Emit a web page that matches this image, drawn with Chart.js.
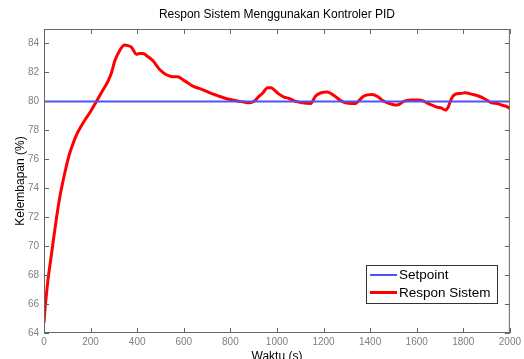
<!DOCTYPE html>
<html lang="id">
<head>
    <meta charset="UTF-8">
    <title>Respon Sistem Menggunakan Kontroler PID</title>
    <script src="https://cdn.jsdelivr.net/npm/chart.js"></script>
    <style>
        body { margin: 0; background: #fff; }
        #chart { display: block; }
    </style>
</head>
<body>
    <canvas id="chart" width="524" height="359"></canvas>
    <script>
        // data
        const xTicks = [0, 200, 400, 600, 800, 1000, 1200, 1400, 1600, 1800, 2000];
        const yTicks = [64, 66, 68, 70, 72, 74, 76, 78, 80, 82, 84];

        const spTime = [0, 2000];
        const spValue = [80, 80];

        const respTime = [0, 5, 10, 18, 30, 40, 55, 68, 83, 97, 110, 125, 140, 160, 175, 200, 225, 250, 275, 290,
            304, 318, 332, 346, 360, 375, 385, 396, 410, 425, 445, 468, 482, 496, 515, 532, 555, 574, 600, 620,
            639, 675, 710, 745, 781, 810, 838, 860, 881, 905, 917, 940, 960, 975, 988, 1009, 1030, 1052, 1080, 1109,
            1145, 1166, 1190, 1216, 1245, 1270, 1295, 1320, 1337, 1355, 1373, 1409, 1435, 1458, 1485, 1508, 1525, 1544, 1575, 1608,
            1625, 1644, 1665, 1686, 1705, 1722, 1735, 1744, 1755, 1765, 1790, 1808, 1835, 1865, 1895, 1922, 1945, 1964, 1985, 2000];
        const respValue = [64.7, 65.8, 66.6, 67.8, 69.2, 70.4, 72.1, 73.4, 74.6, 75.6, 76.4, 77.1, 77.7, 78.3, 78.7, 79.3, 80.0, 80.7, 81.4, 82.0,
            82.8, 83.3, 83.7, 83.9, 83.85, 83.75, 83.5, 83.25, 83.3, 83.3, 83.1, 82.8, 82.5, 82.2, 81.95, 81.8, 81.7, 81.7, 81.45, 81.25,
            81.05, 80.85, 80.6, 80.4, 80.2, 80.1, 80.0, 79.95, 79.9, 80.05, 80.25, 80.6, 80.95, 80.95, 80.8, 80.5, 80.3, 80.2, 80.0, 79.9,
            79.86, 80.37, 80.6, 80.64, 80.4, 80.1, 79.9, 79.85, 79.86, 80.1, 80.37, 80.48, 80.3, 80.02, 79.85, 79.75, 79.8, 80.0, 80.1, 80.1,
            80.05, 79.9, 79.75, 79.6, 79.55, 79.4, 79.6, 80.0, 80.35, 80.48, 80.55, 80.6, 80.5, 80.37, 80.15, 79.9, 79.85, 79.75, 79.65, 79.5];

        const toPoints = (xs, ys) => xs.map((x, i) => ({ x: x, y: ys[i] }));

        // kotak, tick ke dalam, judul dan legenda ala MATLAB
        const matlabFrame = {
            id: 'matlabFrame',
            afterDraw(chart) {
                const ctx = chart.ctx;
                const a = chart.chartArea;
                const sx = chart.scales.x, sy = chart.scales.y;
                ctx.save();
                ctx.strokeStyle = '#666';
                ctx.lineWidth = 1;
                ctx.strokeRect(a.left + 0.5, a.top + 0.5, a.right - a.left - 1, a.bottom - a.top - 1);
                ctx.beginPath();
                xTicks.forEach(v => {
                    const px = Math.round(sx.getPixelForValue(v)) + 0.5;
                    ctx.moveTo(px, a.bottom); ctx.lineTo(px, a.bottom - 5);
                    ctx.moveTo(px, a.top); ctx.lineTo(px, a.top + 5);
                });
                yTicks.forEach(v => {
                    const py = Math.round(sy.getPixelForValue(v)) + 0.5;
                    ctx.moveTo(a.left, py); ctx.lineTo(a.left + 5, py);
                    ctx.moveTo(a.right, py); ctx.lineTo(a.right - 5, py);
                });
                ctx.stroke();

                // judul
                ctx.fillStyle = '#000';
                ctx.font = '12px "Liberation Sans", Arial, sans-serif';
                ctx.textAlign = 'center';
                ctx.textBaseline = 'middle';
                ctx.fillText('Respon Sistem Menggunakan Kontroler PID', (a.left + a.right) / 2, 15);

                // legenda
                const bx = 366, by = 265, bw = 131, bh = 38;
                ctx.fillStyle = '#fff';
                ctx.fillRect(bx, by, bw, bh);
                ctx.strokeStyle = '#333';
                ctx.strokeRect(bx + 0.5, by + 0.5, bw, bh);
                const items = [
                    { label: 'Setpoint', color: '#5050ff', width: 2, y: 275 },
                    { label: 'Respon Sistem', color: '#ff0000', width: 3, y: 292.5 }
                ];
                ctx.font = '13.5px "Liberation Sans", Arial, sans-serif';
                ctx.textAlign = 'left';
                items.forEach(it => {
                    ctx.strokeStyle = it.color;
                    ctx.lineWidth = it.width;
                    ctx.beginPath();
                    ctx.moveTo(370, it.y); ctx.lineTo(397, it.y);
                    ctx.stroke();
                    ctx.fillStyle = '#000';
                    ctx.fillText(it.label, 399, it.y + 0.5);
                });
                ctx.restore();
            }
        };

        new Chart(document.getElementById('chart'), {
            type: 'line',
            data: {
                datasets: [{
                    label: 'Setpoint',
                    data: toPoints(spTime, spValue),
                    borderColor: '#5050ff',
                    borderWidth: 2,
                    pointRadius: 0
                }, {
                    label: 'Respon Sistem',
                    data: toPoints(respTime, respValue),
                    borderColor: '#ff0000',
                    borderWidth: 3,
                    pointRadius: 0,
                    cubicInterpolationMode: 'monotone'
                }]
            },
            options: {
                responsive: false,
                animation: false,
                layout: { padding: { top: 29, right: 12, left: 0, bottom: 0 } },
                plugins: {
                    legend: { display: false },
                    title: { display: false },
                    tooltip: { enabled: false }
                },
                scales: {
                    x: {
                        type: 'linear',
                        min: 0,
                        max: 2000,
                        afterFit: s => { s.height = 26; },
                        afterBuildTicks: s => { s.ticks = xTicks.map(v => ({ value: v })); },
                        grid: { display: false, drawTicks: false },
                        border: { display: false },
                        ticks: {
                            padding: 3,
                            maxRotation: 0,
                            autoSkip: false,
                            color: '#808080',
                            callback: v => String(v),
                            font: { family: '"Liberation Sans", Arial, sans-serif', size: 10 }
                        },
                        title: {
                            display: true,
                            text: 'Waktu (s)',
                            color: '#000',
                            padding: { top: 0, bottom: -4.5 },
                            font: { family: '"Liberation Sans", Arial, sans-serif', size: 12 }
                        }
                    },
                    y: {
                        min: 64,
                        max: 85,
                        afterFit: s => { s.width = 44; },
                        afterBuildTicks: s => { s.ticks = yTicks.map(v => ({ value: v })); },
                        grid: { display: false, drawTicks: false },
                        border: { display: false },
                        ticks: {
                            padding: 5,
                            autoSkip: false,
                            color: '#808080',
                            callback: v => String(v),
                            font: { family: '"Liberation Sans", Arial, sans-serif', size: 10 }
                        },
                        title: {
                            display: true,
                            text: 'Kelembapan (%)',
                            color: '#000',
                            padding: { top: 13, bottom: 0 },
                            font: { family: '"Liberation Sans", Arial, sans-serif', size: 12 }
                        }
                    }
                }
            },
            plugins: [matlabFrame]
        });
    </script>
</body>
</html>
